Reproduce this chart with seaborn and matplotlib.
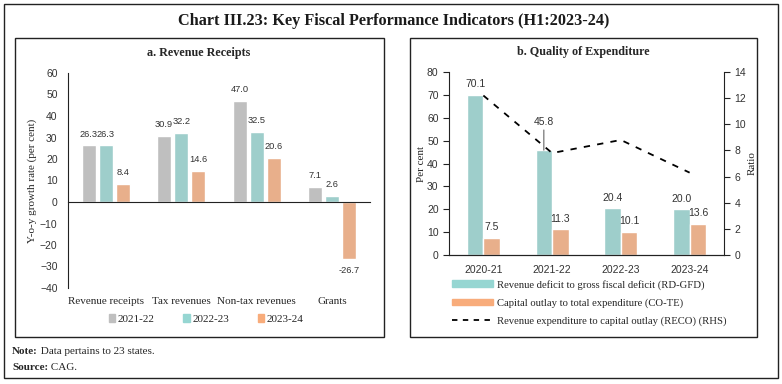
import matplotlib
matplotlib.use("Agg")
import numpy as np
import pandas as pd
import seaborn as sns
from matplotlib import pyplot as plt
from matplotlib.patches import Rectangle, Patch
from matplotlib.lines import Line2D
from matplotlib.transforms import blended_transform_factory

# panel a data
categories = ["Revenue receipts", "Tax revenues", "Non-tax revenues", "Grants"]
years_a = ["2021-22", "2022-23", "2023-24"]
growth_2122 = [26.3, 30.9, 47.0, 7.1]
growth_2223 = [26.3, 32.2, 32.5, 2.6]
growth_2324 = [8.4, 14.6, 20.6, -26.7]

# panel b data
years_b = ["2020-21", "2021-22", "2022-23", "2023-24"]
rd_gfd = [70.1, 45.8, 20.4, 20.0]
co_te = [7.5, 11.3, 10.1, 13.6]
reco = [12.2, 7.8, 8.8, 6.3]

GREY = "#BFBFBF"
TEAL = "#96D6D2"
ORANGE = "#F8AC7B"
SERIF = "Liberation Serif"
SANS = "Liberation Sans"

sns.set_style("white")
plt.rcParams["font.family"] = [SANS, "DejaVu Sans"]

fig = plt.figure(figsize=(7.82, 3.84), dpi=100)
W, H = 782, 384


def fx(px):
    return px / W


def fy(py):
    return 1 - py / H


# frames
fig.patches.append(Rectangle((fx(4), fy(378)), fx(774), 374 / H, transform=fig.transFigure,
                             fill=False, lw=1.0, ec="#222222"))
fig.patches.append(Rectangle((fx(15), fy(337)), fx(369), 299 / H, transform=fig.transFigure,
                             fill=False, lw=1.0, ec="#222222"))
fig.patches.append(Rectangle((fx(410), fy(337)), fx(347), 299 / H, transform=fig.transFigure,
                             fill=False, lw=1.0, ec="#222222"))

fig.text(fx(394), fy(21), "Chart III.23: Key Fiscal Performance Indicators (H1:2023-24)",
         ha="center", va="center", fontsize=11.7, fontweight="bold", family=SERIF, color="#1a1a1a")

# ---------------- panel a ----------------
ax1 = fig.add_axes([fx(68), fy(288), fx(302), 215 / H])
df_a = pd.DataFrame({
    "category": categories * 3,
    "year": [years_a[0]] * 4 + [years_a[1]] * 4 + [years_a[2]] * 4,
    "value": growth_2122 + growth_2223 + growth_2324,
})
sns.barplot(data=df_a, x="category", y="value", hue="year", palette=[GREY, TEAL, ORANGE],
            width=0.68, gap=0.18, ax=ax1, legend=False)
for c in ax1.containers:
    ax1.bar_label(c, fmt="%.1f", padding=5, fontsize=6.7, color="#333333")
ax1.set_ylim(-40, 60)
ax1.set_yticks(range(-40, 61, 10))
ax1.set_xlim(-0.5, 3.5)
ax1.spines["top"].set_visible(False)
ax1.spines["right"].set_visible(False)
ax1.spines["bottom"].set_position(("data", 0))
ax1.spines["left"].set_color("#222222")
ax1.spines["bottom"].set_color("#222222")
ax1.set_xticks([0.5, 1.5, 2.5, 3.5])
ax1.set_xticklabels([])
ax1.tick_params(axis="x", direction="out", length=4, color="#222222")
ax1.tick_params(axis="y", direction="out", length=4, labelsize=7.5, color="#222222", labelcolor="#333333")
ax1.set_xlabel("")
ax1.set_ylabel("Y-o-y growth rate (per cent)", family=SERIF, fontsize=8, labelpad=2)
trans = blended_transform_factory(ax1.transData, ax1.transAxes)
for i, cat in enumerate(categories):
    ax1.text(i, -0.065, cat, transform=trans, ha="center", va="center", fontsize=8, family=SERIF)
fig.text(fx(199), fy(53), "a. Revenue Receipts", ha="center", va="center",
         fontsize=8.7, fontweight="bold", family=SERIF)

handles_a = [Patch(color=c) for c in [GREY, TEAL, ORANGE]]
fig.legend(handles_a, years_a, loc="center", bbox_to_anchor=(fx(206), fy(319)), ncol=3,
           frameon=False, handlelength=0.6, handleheight=0.8, handletextpad=0.2, columnspacing=2.6,
           prop={"family": SERIF, "size": 8})

# ---------------- panel b ----------------
ax2 = fig.add_axes([fx(449), fy(255), fx(275), 183 / H])
df_b = pd.DataFrame({
    "year": years_b * 2,
    "series": ["RD-GFD"] * 4 + ["CO-TE"] * 4,
    "value": rd_gfd + co_te,
})
sns.barplot(data=df_b, x="year", y="value", hue="series", palette=[TEAL, ORANGE],
            width=0.48, ax=ax2, legend=False)
teal_bars, orange_bars = ax2.containers
ax2.bar_label(teal_bars, labels=[f"{v:.1f}" if i != 1 else "" for i, v in enumerate(rd_gfd)],
              padding=4, fontsize=7.5, color="#333333")
ax2.bar_label(orange_bars, fmt="%.1f", padding=4, fontsize=7.5, color="#333333")
b = teal_bars.patches[1]
ax2.annotate(f"{rd_gfd[1]:.1f}", xy=(b.get_x() + b.get_width() / 2, rd_gfd[1]), xytext=(0, 17),
             textcoords="offset points", ha="center", va="bottom", fontsize=7.5, color="#333333",
             arrowprops=dict(arrowstyle="-", lw=0.6, color="#333333", shrinkA=0, shrinkB=0))
ax2.set_ylim(0, 80)
ax2.set_yticks(range(0, 81, 10))
ax2.set_xlim(-0.5, 3.5)
ax2.spines["top"].set_visible(False)
ax2.spines["right"].set_visible(False)
ax2.set_xlabel("")
ax2.set_ylabel("Per cent", family=SERIF, fontsize=8, labelpad=1)
ax2.tick_params(axis="both", direction="out", length=4, labelsize=7.5, color="#222222", labelcolor="#333333")
fig.text(fx(583), fy(52), "b. Quality of Expenditure", ha="center", va="center",
         fontsize=8.7, fontweight="bold", family=SERIF)

ax3 = ax2.twinx()
sns.lineplot(x=list(range(len(years_b))), y=reco, ax=ax3, color="black", lw=1.3,
             linestyle=(0, (3.5, 4)))
ax3.set_ylim(0, 14)
ax3.set_yticks(range(0, 15, 2))
ax3.set_xlim(-0.5, 3.5)
ax3.spines["top"].set_visible(False)
ax3.spines["left"].set_visible(False)
ax3.tick_params(axis="y", direction="out", length=4, labelsize=7.5, color="#222222", labelcolor="#333333")
ax3.set_ylabel("Ratio", family=SERIF, fontsize=8, labelpad=1)
for ax in (ax2, ax3):
    for s in ax.spines.values():
        s.set_color("#222222")

handles_b = [Patch(color=TEAL), Patch(color=ORANGE),
             Line2D([], [], color="black", lw=1.3, linestyle=(0, (3, 3)))]
labels_b = ["Revenue deficit to gross fiscal deficit (RD-GFD)",
            "Capital outlay to total expenditure (CO-TE)",
            "Revenue expenditure to capital outlay (RECO) (RHS)"]
fig.legend(handles_b, labels_b, loc="upper left", bbox_to_anchor=(fx(442), fy(270)), ncol=1,
           frameon=False, handlelength=3.9, handleheight=0.5, handletextpad=0.3, labelspacing=0.8,
           prop={"family": SERIF, "size": 7.7})

# notes
t1 = fig.text(fx(12), fy(352), "Note:", fontweight="bold", family=SERIF, fontsize=8, va="center")
t2 = fig.text(fx(12), fy(367), "Source:", fontweight="bold", family=SERIF, fontsize=8, va="center")
ax1.annotate(" Data pertains to 23 states.", xy=(1, 0.5), xycoords=t1, va="center",
             family=SERIF, fontsize=8, annotation_clip=False)
ax1.annotate(" CAG.", xy=(1, 0.5), xycoords=t2, va="center", family=SERIF, fontsize=8,
             annotation_clip=False)

fig.savefig("out.png", dpi=100)
